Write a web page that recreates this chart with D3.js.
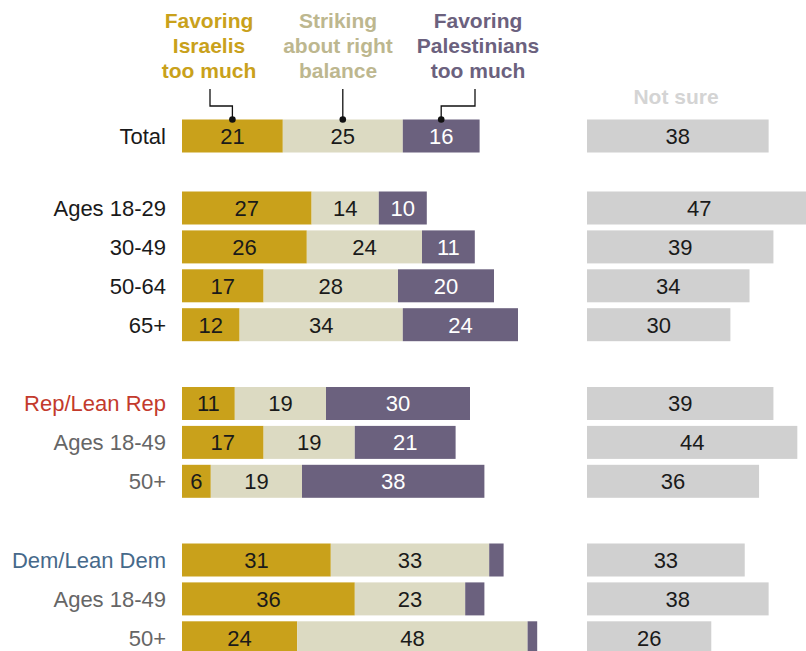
<!DOCTYPE html>
<html>
<head>
<meta charset="utf-8">
<script src="https://cdn.jsdelivr.net/npm/d3@7"></script>
<style>
  html, body { margin: 0; padding: 0; background: #fff; }
  svg { display: block; font-family: "Liberation Sans", Arial, sans-serif; }
</style>
</head>
<body>
<svg id="chart" width="806" height="651"></svg>
<script>
// Row labels and the group each row belongs to (0 = Total, 1 = ages, 2 = Rep, 3 = Dem)
const rowLabels = ["Total", "Ages 18-29", "30-49", "50-64", "65+",
                   "Rep/Lean Rep", "Ages 18-49", "50+",
                   "Dem/Lean Dem", "Ages 18-49", "50+"];
const rowGroups = [0, 1, 1, 1, 1, 2, 2, 2, 3, 3, 3];
const rowIndexInGroup = [0, 0, 1, 2, 3, 0, 1, 2, 0, 1, 2];
const rowLabelColors = ["#1a1a1a", "#1a1a1a", "#1a1a1a", "#1a1a1a", "#1a1a1a",
                        "#c33a2c", "#666666", "#666666",
                        "#46698a", "#666666", "#666666"];

// Series values (%)
const favorIsraelis     = [21, 27, 26, 17, 12, 11, 17, 6, 31, 36, 24];
const aboutRight        = [25, 14, 24, 28, 34, 19, 19, 19, 33, 23, 48];
const favorPalestinians = [16, 10, 11, 20, 24, 30, 21, 38, 3, 4, 2];
const notSure           = [38, 47, 39, 34, 30, 39, 44, 36, 33, 38, 26];

// Series names and header text
const seriesKeys = ["israelis", "right", "palestinians"];
const seriesHeaders = [
  ["Favoring", "Israelis", "too much"],
  ["Striking", "about right", "balance"],
  ["Favoring", "Palestinians", "too much"]
];
const notSureHeader = "Not sure";

const colors = {
  israelis: "#c9a11b",
  right: "#dcdac2",
  palestinians: "#6b617e",
  notSure: "#d0d0d0"
};
const headerColors = {
  israelis: "#c9a11b",
  right: "#bdb78f",
  palestinians: "#6b617e",
  notSure: "#d4d4d4"
};

const svg = d3.select("#chart");

// Horizontal scales: stacked bars and the separate "Not sure" column
const x = d3.scaleLinear().domain([0, 100]).range([182, 662]);
const xNS = d3.scaleLinear().domain([0, 100]).range([587, 1065]);

// Vertical layout: each group starts at its own offset, rows step evenly within it
const groupTop = [119.5, 191.5, 387, 543.5];
const rowStep = 38.9;
const barH = 33;
const yTop = i => groupTop[rowGroups[i]] + rowIndexInGroup[i] * rowStep;

const rows = rowLabels.map((label, i) => ({
  i, label,
  israelis: favorIsraelis[i],
  right: aboutRight[i],
  palestinians: favorPalestinians[i],
  notSure: notSure[i]
}));

const stacked = d3.stack().keys(seriesKeys)(rows);

// Row labels
svg.append("g").selectAll("text")
  .data(rows).join("text")
  .attr("x", 166)
  .attr("y", d => yTop(d.i) + barH / 2)
  .attr("dy", "0.36em")
  .attr("text-anchor", "end")
  .attr("font-size", 22)
  .attr("fill", d => rowLabelColors[d.i])
  .text(d => d.label);

// Stacked bars
const layers = svg.append("g").selectAll("g")
  .data(stacked).join("g")
  .attr("fill", s => colors[s.key]);

layers.selectAll("rect")
  .data(s => s.map(p => ({ p, key: s.key })))
  .join("rect")
  .attr("x", d => x(d.p[0]))
  .attr("y", d => yTop(d.p.data.i))
  .attr("width", d => x(d.p[1]) - x(d.p[0]))
  .attr("height", barH);

// Value labels inside segments
layers.selectAll("text")
  .data(s => s.map(p => ({ p, key: s.key })).filter(d => d.p[1] - d.p[0] >= 5))
  .join("text")
  .attr("x", d => (x(d.p[0]) + x(d.p[1])) / 2)
  .attr("y", d => yTop(d.p.data.i) + barH / 2)
  .attr("dy", "0.36em")
  .attr("text-anchor", "middle")
  .attr("font-size", 22)
  .attr("fill", d => d.key === "palestinians" ? "#ffffff" : "#1a1a1a")
  .text(d => d.p[1] - d.p[0]);

// "Not sure" bars
const ns = svg.append("g");
ns.selectAll("rect")
  .data(rows).join("rect")
  .attr("x", xNS(0))
  .attr("y", d => yTop(d.i))
  .attr("width", d => xNS(d.notSure) - xNS(0))
  .attr("height", barH)
  .attr("fill", colors.notSure);
ns.selectAll("text")
  .data(rows).join("text")
  .attr("x", d => (xNS(0) + xNS(d.notSure)) / 2)
  .attr("y", d => yTop(d.i) + barH / 2)
  .attr("dy", "0.36em")
  .attr("text-anchor", "middle")
  .attr("font-size", 22)
  .attr("fill", "#1a1a1a")
  .text(d => d.notSure);

// Series headers above the Total bar
const headerX = { israelis: 209, right: 338, palestinians: 478 };
const headers = svg.append("g")
  .attr("font-size", 21)
  .attr("font-weight", "bold")
  .attr("text-anchor", "middle");
seriesKeys.forEach((key, k) => {
  const t = headers.append("text").attr("fill", headerColors[key]);
  seriesHeaders[k].forEach((line, j) => {
    t.append("tspan").attr("x", headerX[key]).attr("y", 28 + j * 25).text(line);
  });
});
headers.append("text")
  .attr("x", 676).attr("y", 104)
  .attr("fill", headerColors.notSure)
  .text(notSureHeader);

// Leader lines from headers to the Total segments
const total = stacked.map(s => s[0]);
const dotY = yTop(0);
const leaders = svg.append("g")
  .attr("fill", "none")
  .attr("stroke", "#111")
  .attr("stroke-width", 1.3);
total.forEach((p, k) => {
  const key = seriesKeys[k];
  const cx = (x(p[0]) + x(p[1])) / 2;
  const hx = key === "israelis" ? 210 : key === "palestinians" ? 475 : cx;
  const path = d3.path();
  path.moveTo(hx, 89);
  if (hx !== cx) {
    path.lineTo(hx, 106);
    path.lineTo(cx, 106);
  }
  path.lineTo(cx, dotY);
  leaders.append("path").attr("d", path.toString());
  svg.append("circle")
    .attr("cx", cx).attr("cy", dotY).attr("r", 3.3)
    .attr("fill", "#111");
});
</script>
</body>
</html>
